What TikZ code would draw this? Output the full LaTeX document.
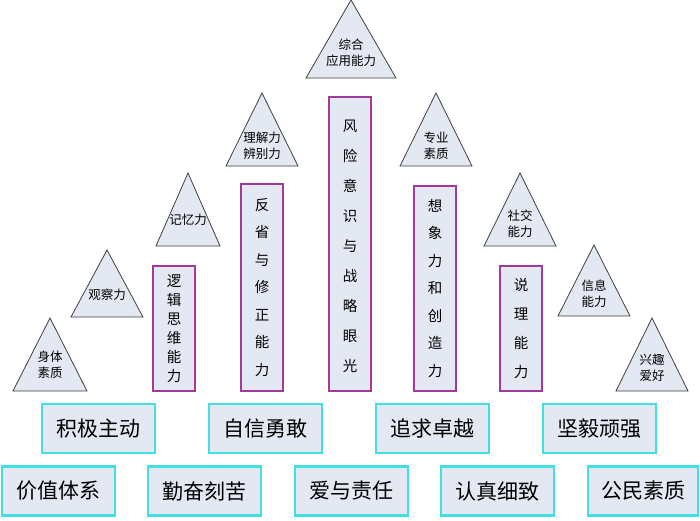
\documentclass[tikz,border=0pt]{standalone}
\usepackage{fontspec}
\newfontfamily\cjk{Noto Sans CJK SC}
\begin{document}
\begin{tikzpicture}[x=1pt,y=-1pt,
  tri/.style={draw=black!75,fill=tfill,line width=0.8pt},
  ttext/.style={font=\cjk\fontsize{12.5}{16}\selectfont,align=center,inner sep=0pt},
  bar/.style={draw=bmag,fill=tfill,line width=1.6pt},
  btext/.style={font=\cjk\fontsize{14.5}{#1}\selectfont,align=center,inner sep=0pt},
  cbox/.style={draw=cyanb,fill=tfill,line width=2.6pt,minimum width=113pt,minimum height=49pt,font=\cjk\fontsize{21}{24}\selectfont,inner sep=0pt}]
\definecolor{tfill}{HTML}{E4E8F2}
\definecolor{bmag}{HTML}{A23A9C}
\definecolor{cyanb}{HTML}{40E0E4}
\useasboundingbox (0,0) rectangle (700,520);
% triangles
\foreach \n/\ax/\ay/\hw/\by/\t/\ty in {
 t1/50/318/37/391/身体\\素质/365,
 t2/107/250/36/317/观察力/295,
 t3/188/173/32/246/记忆力/220,
 t4/262/93/36/166/理解力\\辨别力/146,
 t5/351/0/45/78/综合\\应用能力/53,
 t6/436/93/36/166/专业\\素质/146,
 t7/520/173/36/246/社交\\能力/224,
 t8/594/245/36/316/信息\\能力/294,
 t9/652/318/36/391/兴趣\\爱好/368}{
  \draw[tri] (\ax,\ay) -- (\ax-\hw,\by) -- (\ax+\hw,\by) -- cycle;
  \node[ttext] (\n) at (\ax,\ty) {\t};
}
% bars
\draw[bar] (153,266) rectangle (195,391);
\node[btext=19] (b1) at (174,328.5) {逻\\辑\\思\\维\\能\\力};
\draw[bar] (241,184) rectangle (283,391);
\node[btext=27.5] (b2) at (262,287.5) {反\\省\\与\\修\\正\\能\\力};
\draw[bar] (329,97) rectangle (371,391);
\node[btext=30] (b3) at (350,246) {风\\险\\意\\识\\与\\战\\略\\眼\\光};
\draw[bar] (414,186) rectangle (456,391);
\node[btext=27.5] (b4) at (435,288.5) {想\\象\\力\\和\\创\\造\\力};
\draw[bar] (500,266) rectangle (542,391);
\node[btext=29] (b5) at (521,328.5) {说\\理\\能\\力};
% boxes
\node[cbox] (c1) at (98.5,428.5) {积极主动};
\node[cbox] (c2) at (265.5,428.5) {自信勇敢};
\node[cbox] (c3) at (432.5,428.5) {追求卓越};
\node[cbox] (c4) at (599.5,428.5) {坚毅顽强};
\node[cbox] (d1) at (58.5,491) {价值体系};
\node[cbox] (d2) at (204.5,491) {勤奋刻苦};
\node[cbox] (d3) at (351.5,491) {爱与责任};
\node[cbox] (d4) at (497.5,491) {认真细致};
\node[cbox,minimum width=110pt] (d5) at (643,491) {公民素质};
\end{tikzpicture}
\end{document}
